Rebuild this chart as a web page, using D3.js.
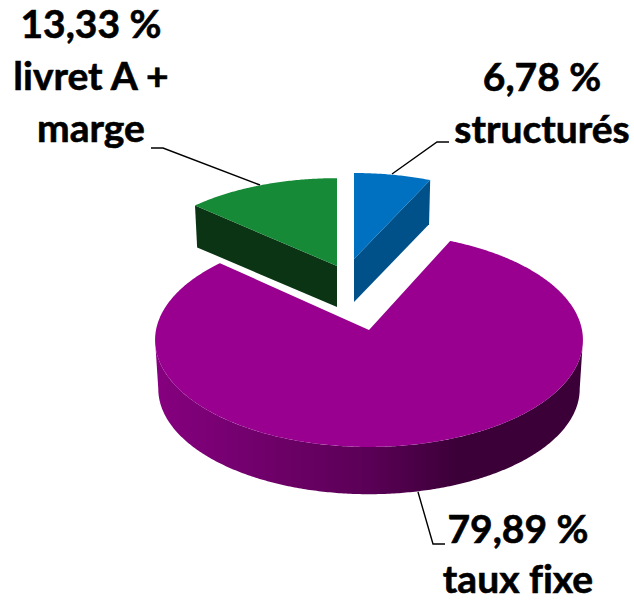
<!DOCTYPE html>
<html>
<head>
<meta charset="utf-8">
<script src="https://d3js.org/d3.v7.min.js"></script>
<style>
  html, body { margin: 0; padding: 0; background: #fff; }
  svg { display: block; }
  text {
    font-family: Lato, "Open Sans", sans-serif;
    font-weight: 700;
    font-size: 39px;
    fill: #000;
    stroke: #000;
    stroke-width: 0.6px;
    font-variant-ligatures: none;
  }
</style>
</head>
<body>
<div id="chart"></div>
<script>
var svgWidth = 634;
var svgHeight = 602;

// chart values, clockwise from 12 o'clock
var categories = ["structurés", "taux fixe", "livret A + marge"];
var values = [6.78, 79.89, 13.33];
var labelLines = [["structurés"], ["taux fixe"], ["livret A +", "marge"]];

// 3d layout of each slice: apex on screen, radius, flattening, thickness
var apexX = [354, 369, 337];
var apexY = [259, 330, 266];
var radius = [200, 213, 203];
var tilt = [0.47, 0.498, 0.473];
var depth = [43, 49, 41];
var topColors = ["#0070c0", "#990090", "#168a36"];
var sideColors = ["#00508a", "url(#wallGradient)", "#0a3413"];
var labelX = [542, 518, 91];
var labelY = [91, 543, 38];
var labelGap = [52, 50, 52];
var leaders = [
  [[449, 142], [437, 142], [392, 174]],
  [[418, 492], [433, 544], [445, 544]],
  [[151, 148], [163, 148], [260, 185]]
];

var perspective = 0.093; // far side of the disc shrinks by this much
var bottomScale = 0.985; // bottom face is a bit smaller than the top

var svg = d3.select("#chart")
  .append("svg")
  .attr("width", svgWidth)
  .attr("height", svgHeight);

// stepped left to right shading of the big slice's wall
var wallShade = d3.scaleLinear()
  .domain([0, 0.5, 0.7, 1])
  .range(["#86007f", "#5a0056", "#3c0038", "#3c0038"]);

var gradient = svg.append("defs").append("linearGradient")
  .attr("id", "wallGradient")
  .attr("gradientUnits", "userSpaceOnUse")
  .attr("x1", 155)
  .attr("x2", 585)
  .attr("y1", 0)
  .attr("y2", 0);

gradient.selectAll("stop")
  .data(d3.range(0, 1.001, 0.1))
  .enter()
  .append("stop")
  .attr("offset", d => d)
  .attr("stop-color", d => wallShade(d));

var pie = d3.pie().sort(null).startAngle(0).endAngle(2 * Math.PI);
var arcs = pie(values);

// disc angle -> screen point
function project(i, angle, bottom) {
  var r = radius[i] * (bottom ? bottomScale : 1);
  var z = Math.cos(angle);
  var f = 1 / (1 + perspective * z);
  return [
    apexX[i] + r * Math.sin(angle) * f,
    apexY[i] - r * tilt[i] * z * f + (bottom ? depth[i] : 0)
  ];
}

function sweep(from, to) {
  var n = Math.max(2, Math.ceil(Math.abs(to - from) / 0.01));
  return d3.range(n + 1).map(k => from + (to - from) * k / n);
}

var line = d3.line();

function topFace(d, i) {
  var pts = sweep(d.startAngle, d.endAngle).map(a => project(i, a, false));
  pts.push([apexX[i], apexY[i]]);
  return line(pts) + "Z";
}

// side that can be seen from the viewer
function sideFace(d, i) {
  if (i === 1) {
    // outer wall between the two silhouette points
    var tangent = Math.acos(-perspective);
    var range = sweep(tangent, 2 * Math.PI - tangent);
    return line(range.map(a => project(i, a, false))
      .concat(range.slice().reverse().map(a => project(i, a, true)))) + "Z";
  }
  // radial cut of the small slices
  var edge = i === 0 ? d.endAngle : d.startAngle;
  return line([
    [apexX[i], apexY[i]],
    project(i, edge, false),
    project(i, edge, true),
    [apexX[i], apexY[i] + depth[i]]
  ]) + "Z";
}

// leader lines sit below the slices
svg.selectAll(".leader")
  .data(leaders)
  .enter()
  .append("path")
  .attr("class", "leader")
  .attr("d", d => line(d))
  .attr("fill", "none")
  .attr("stroke", "#000")
  .attr("stroke-width", 1.4);

// big slice first, the pulled out ones go on top
var order = [1, 2, 0];

order.forEach(function(i) {
  var group = svg.append("g").attr("class", "slice").attr("data-name", categories[i]);

  group.append("path")
    .attr("d", sideFace(arcs[i], i))
    .attr("fill", sideColors[i]);

  group.append("path")
    .attr("d", topFace(arcs[i], i))
    .attr("fill", topColors[i]);
});

// labels, french decimal comma
var percent = d3.formatLocale({
  decimal: ",", thousands: " ", grouping: [3], currency: ["", " €"]
}).format(".2f");

var labels = svg.selectAll(".label")
  .data(values)
  .enter()
  .append("text")
  .attr("class", "label")
  .attr("text-anchor", "middle")
  .attr("x", (d, i) => labelX[i])
  .attr("y", (d, i) => labelY[i]);

labels.each(function(d, i) {
  var rows = [percent(d) + " %"].concat(labelLines[i]);
  d3.select(this).selectAll("tspan")
    .data(rows)
    .enter()
    .append("tspan")
    .attr("x", labelX[i])
    .attr("dy", (r, k) => k === 0 ? 0 : labelGap[i])
    .text(r => r);
});
</script>
</body>
</html>
